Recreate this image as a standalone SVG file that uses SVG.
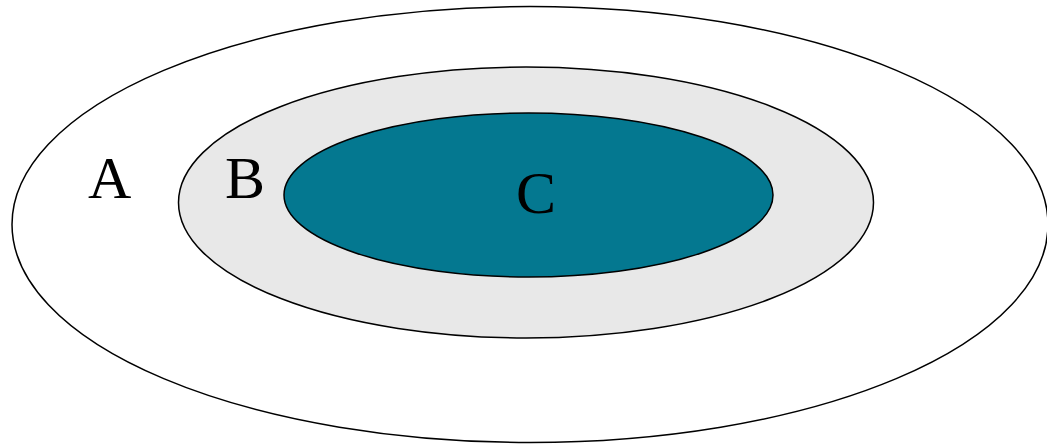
<svg xmlns="http://www.w3.org/2000/svg" width="1047" height="444" viewBox="0 0 1047 444">
<style>
.e{stroke:#000;stroke-width:1.5}
text{font-family:'Liberation Serif','Times New Roman',Times,serif;font-size:60px;fill:#000}
</style>
<rect width="1047" height="444" fill="#fff"/>
<g id="A">
<ellipse class="e" cx="530" cy="224.5" rx="518" ry="218" fill="#fff"/>
<text x="88" y="198" font-family="Liberation Serif">A</text>
</g>
<g id="B">
<ellipse class="e" cx="526" cy="202.5" rx="347.5" ry="135.5" fill="#e8e8e8"/>
<text x="225" y="198" font-family="Liberation Serif">B</text>
</g>
<g id="C">
<ellipse class="e" cx="528.5" cy="195" rx="244.5" ry="82" fill="#047890"/>
<text x="516" y="213" font-family="Liberation Serif">C</text>
</g>
<g id="connectors"/>
</svg>
